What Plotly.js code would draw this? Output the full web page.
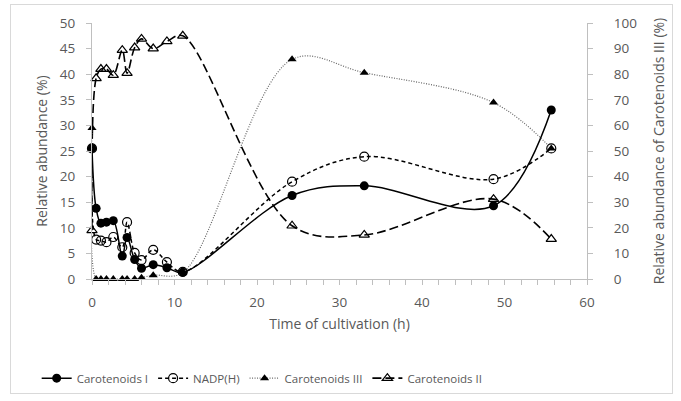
<!DOCTYPE html>
<html>
<head>
<meta charset="utf-8">
<script src="https://cdn.plot.ly/plotly-3.0.1.min.js"></script>
<style>
  html, body { margin: 0; padding: 0; background: #fff; }
  #wrap { position: relative; width: 681px; height: 401px; }
  #chart { width: 681px; height: 401px; }
  #frame { position: absolute; left: 10px; top: 4px; width: 661px; height: 388px; border: 1px solid #d9d9d9; pointer-events: none; }
</style>
</head>
<body>
<div id="wrap"><div id="chart"></div><div id="frame"></div></div>
<script>
// Time of cultivation (h)
const time = [0, 0.5, 1.08, 1.75, 2.58, 3.67, 4.25, 5.17, 6, 7.42, 9.08, 11, 24.25, 33, 48.67, 55.67];
// Relative abundance (%) — left axis
const carotenoidsI = [25.5, 13.8, 10.9, 11.1, 11.4, 4.5, 8.1, 3.8, 2.1, 2.8, 2.2, 1.3, 16.3, 18.2, 14.3, 33.0];
const nadph       = [25.5, 7.7, 7.5, 7.2, 8.2, 6.2, 11.1, 5.1, 3.7, 5.7, 3.3, 1.4, 19.0, 23.9, 19.5, 25.5];
const carotenoidsII = [9.5, 39.2, 41.0, 41.0, 39.8, 44.7, 40.2, 45.2, 46.9, 45.0, 46.4, 47.5, 10.4, 8.6, 15.6, 7.8];
// Relative abundance of Carotenoids III (%) — right axis
const timeIII = [0, 0.5, 1.08, 1.75, 2.58, 3.67, 4.25, 5.17, 6, 7.42, 11, 24.25, 33, 48.67, 55.67];
const carotenoidsIII = [59, 0, 0, 0, 0, 0, 0, 0, 0.5, 1.5, 2.5, 85.8, 80.6, 68.9, 51.0];

const seriesNames = ["Carotenoids I", "NADP(H)", "Carotenoids III", "Carotenoids II"];

const traces = [
  {
    x: time, y: carotenoidsI, name: seriesNames[0], type: "scatter", mode: "lines+markers",
    line: { color: "#000", width: 1.5, shape: "spline", smoothing: 1 },
    marker: { symbol: "circle", size: 9, color: "#000" }, cliponaxis: false
  },
  {
    x: time, y: nadph, name: seriesNames[1], type: "scatter", mode: "lines+markers",
    line: { color: "#000", width: 1.5, dash: "4px,3px", shape: "spline", smoothing: 1 },
    marker: { symbol: "circle-open", size: 9, color: "#000", line: { width: 1.2, color: "#000" } }, cliponaxis: false
  },
  {
    x: timeIII, y: carotenoidsIII, name: seriesNames[2], type: "scatter", mode: "lines+markers", yaxis: "y2",
    line: { color: "#666", width: 1.2, dash: "1px,1.5px", shape: "spline", smoothing: 1 },
    marker: { symbol: "triangle-up", size: 8, color: "#000" }, cliponaxis: false
  },
  {
    x: time, y: carotenoidsII, name: seriesNames[3], type: "scatter", mode: "lines+markers",
    line: { color: "#000", width: 1.6, dash: "9px,4px", shape: "spline", smoothing: 1 },
    marker: { symbol: "triangle-up-open", size: 9, color: "#000", line: { width: 1.2, color: "#000" } }, cliponaxis: false
  }
];

const fam = "Open Sans, Liberation Sans, sans-serif";
const tickFont = { family: fam, size: 13.5, color: "#595959" };
const titleFont = { family: fam, size: 14, color: "#595959" };

const layout = {
  width: 681, height: 401,
  margin: { l: 92, r: 94, t: 23, b: 122 },
  paper_bgcolor: "#fff", plot_bgcolor: "#fff",
  showlegend: true,
  legend: {
    orientation: "h", xref: "container", yref: "container",
    x: 0.385, xanchor: "center", y: 0.057, yanchor: "middle",
    font: { family: fam, size: 11.5, color: "#595959" },
    traceorder: "normal", itemwidth: 30, tracegroupgap: 0
  },
  xaxis: {
    range: [0, 60], dtick: 10, tick0: 0, showgrid: false, zeroline: false,
    showline: true, linecolor: "#bfbfbf", linewidth: 1,
    ticks: "outside", ticklen: 5, tickcolor: "#bfbfbf",
    minor: { dtick: 2, ticks: "outside", ticklen: 5, tickcolor: "#bfbfbf", showgrid: false },
    tickfont: tickFont, ticklabelstandoff: 6,
    title: { text: "Time of cultivation (h)", font: titleFont, standoff: 8 }
  },
  yaxis: {
    range: [0, 50], dtick: 5, tick0: 0, showgrid: false, zeroline: false,
    showline: true, linecolor: "#bfbfbf", linewidth: 1,
    ticks: "outside", ticklen: 5, tickcolor: "#bfbfbf",
    tickfont: tickFont, ticklabelstandoff: 8,
    title: { text: "Relative abundance (%)", font: titleFont, standoff: 8 }
  },
  yaxis2: {
    range: [0, 100], dtick: 10, tick0: 0, overlaying: "y", side: "right",
    showgrid: false, zeroline: false,
    showline: true, linecolor: "#bfbfbf", linewidth: 1,
    ticks: "outside", ticklen: 5, tickcolor: "#bfbfbf",
    tickfont: tickFont, ticklabelstandoff: 18,
    title: { text: "Relative abundance of Carotenoids III (%)", font: titleFont, standoff: 18 }
  }
};

Plotly.newPlot("chart", traces, layout, { displayModeBar: false, staticPlot: true });
</script>
</body>
</html>
